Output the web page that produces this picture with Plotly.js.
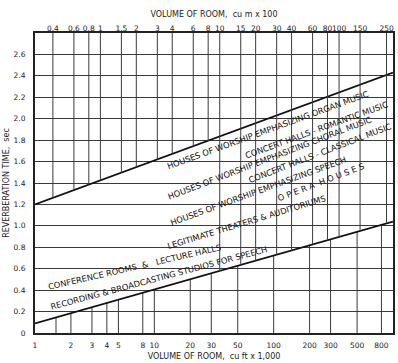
<!DOCTYPE html>
<html><head><meta charset="utf-8">
<script src="https://cdn.plot.ly/plotly-3.0.1.min.js"></script>
<style>html,body{margin:0;padding:0;background:#fff}</style>
</head><body><div id="chart" style="width:398px;height:363px"></div>
<script>
// ---- data ----
const upperVol = [1, 1000];          // room volume, cu ft x 1000
const upperRT  = [1.2, 2.43];        // reverberation time, sec
const lowerVol = [1, 1000];
const lowerRT  = [0.09, 1.04];

const bottomTickVals = [1, 1.5, 2, 3, 4, 5, 8, 10, 20, 30, 50, 100, 200, 300, 500, 800];
const bottomTickText = ['1', '', '2', '3', '4', '5', '8', '10', '20', '30', '50', '100', '200', '300', '500', '800'];
const topTickVals = [0.4, 0.6, 0.8, 1, 1.5, 2, 3, 4, 6, 8, 10, 15, 20, 30, 40, 60, 80, 100, 150, 250];
const topTickText = ['0.4', '0.6', '0.8', '1', '1.5', '2', '3', '4', '6', '8', '10', '15', '20', '30', '40', '60', '80', '100', '150', '250'];
const yTickVals = [0, 0.2, 0.4, 0.6, 0.8, 1.0, 1.2, 1.4, 1.6, 1.8, 2.0, 2.2, 2.4, 2.6];
const yTickText = ['0', '0.2', '0.4', '0.6', '0.8', '1.0', '1.2', '1.4', '1.6', '1.8', '2.0', '2.2', '2.4', '2.6'];

const bandLabels = [
  'HOUSES OF WORSHIP EMPHASIZING ORGAN MUSIC',
  'CONCERT HALLS - ROMANTIC MUSIC',
  'HOUSES OF WORSHIP EMPHASIZING CHORAL MUSIC',
  'CONCERT HALLS - CLASSICAL MUSIC',
  'HOUSES OF WORSHIP EMPHASIZING SPEECH',
  'O P E R A  H O U S E S',
  'LEGITIMATE THEATERS & AUDITORIUMS',
  'CONFERENCE ROOMS  &   LECTURE HALLS',
  'RECORDING & BROADCASTING STUDIOS FOR SPEECH'
];

// 100 cu m = 3.53147 x 1000 cu ft
const CONV = 3.53147;
const Y_MAX = 2.8;

// ---- helpers ----
function onLine(vols, rts, v) {
  const a = Math.log10(vols[0]), b = Math.log10(vols[1]);
  return rts[0] + (rts[1] - rts[0]) * (Math.log10(v) - a) / (b - a);
}

// bottom-scale verticals: from the floor up to the lower limit line
const bx = [], by = [];
bottomTickVals.forEach(v => {
  if (v <= 1) return;
  bx.push(v, v, null);
  by.push(0, onLine(lowerVol, lowerRT, v), null);
});
// top-scale verticals: from the top down to a limit line
const tx = [], ty = [];
topTickVals.forEach(t => {
  const v = t * CONV;
  const yEnd = t >= 10 ? onLine(lowerVol, lowerRT, v) : onLine(upperVol, upperRT, v);
  tx.push(t, t, null);
  ty.push(Y_MAX, yEnd, null);
});

const gridStyle = {color: '#3a3a3a', width: 1};
const traces = [
  {x: bx, y: by, xaxis: 'x', yaxis: 'y', mode: 'lines', line: gridStyle, hoverinfo: 'skip'},
  {x: tx, y: ty, xaxis: 'x2', yaxis: 'y', mode: 'lines', line: gridStyle, hoverinfo: 'skip'},
  {x: upperVol, y: upperRT, xaxis: 'x', yaxis: 'y', mode: 'lines', line: {color: '#111', width: 1.8}, hoverinfo: 'skip'},
  {x: lowerVol, y: lowerRT, xaxis: 'x', yaxis: 'y', mode: 'lines', line: {color: '#111', width: 1.8}, hoverinfo: 'skip'}
];

const F = 'DejaVu Sans';
const tickFont = {family: F, size: 7.5, color: '#222'};
const titleFont = {family: F, size: 8, color: '#222'};

// label placements (paper coords, angle)
const place = [
  [0.650, 0.677, -20], [0.785, 0.677, -20], [0.656, 0.583, -21],
  [0.796, 0.600, -21], [0.623, 0.474, -20], [0.799, 0.503, -21],
  [0.592, 0.370, -17], [0.278, 0.220, -13], [0.345, 0.183, -15]
];
const annotations = bandLabels.map((txt, i) => ({
  text: txt, xref: 'paper', yref: 'paper', x: place[i][0], y: place[i][1],
  textangle: place[i][2], showarrow: false, xanchor: 'center', yanchor: 'middle',
  font: {family: F, size: 8.3, color: '#111'}
}));

const layout = {
  width: 398, height: 363,
  margin: {l: 35, r: 5, t: 33, b: 30},
  paper_bgcolor: '#fff', plot_bgcolor: '#fff',
  showlegend: false,
  xaxis: {
    type: 'log', range: [0, 3], tickmode: 'array', tickvals: bottomTickVals, ticktext: bottomTickText,
    showgrid: false, zeroline: false, showline: true, mirror: true, linewidth: 2, linecolor: '#222',
    ticks: '', tickangle: 0, tickfont: tickFont, ticklabelstandoff: 4,
    title: {text: 'VOLUME OF ROOM,  cu ft x 1,000', font: titleFont, standoff: 4}
  },
  xaxis2: {
    type: 'log', overlaying: 'x', side: 'top', anchor: 'y',
    range: [Math.log10(1 / CONV), Math.log10(1000 / CONV)],
    tickmode: 'array', tickvals: topTickVals, ticktext: topTickText,
    showgrid: false, zeroline: false, showline: false, ticks: '', tickangle: 0, tickfont: tickFont,
    ticklabelstandoff: 0,
    title: {text: 'VOLUME OF ROOM,  cu m x 100', font: titleFont, standoff: 4}
  },
  yaxis: {
    range: [0, Y_MAX], tickmode: 'array', tickvals: yTickVals, ticktext: yTickText,
    showgrid: true, gridcolor: '#3a3a3a', gridwidth: 1, zeroline: false,
    showline: true, mirror: true, linewidth: 2, linecolor: '#222',
    ticks: '', tickfont: tickFont, ticklabelstandoff: 6,
    title: {text: 'REVERBERATION TIME,  sec', font: titleFont, standoff: 3}
  },
  annotations: annotations
};

Plotly.newPlot('chart', traces, layout, {displayModeBar: false, staticPlot: true});
</script></body></html>
